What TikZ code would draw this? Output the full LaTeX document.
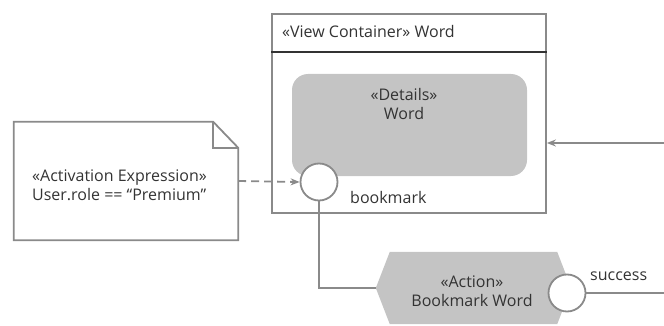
\documentclass[tikz,border=0pt]{standalone}
\usepackage{fontspec}
\setmainfont{Open Sans}
\usetikzlibrary{arrows.meta}
\definecolor{ln}{HTML}{8A8A8A}
\definecolor{tx}{HTML}{333333}
\definecolor{fillg}{HTML}{C4C4C4}
\tikzset{
  line/.style={draw=ln, line width=1.8pt},
  arr/.style={line, -{Stealth[length=9pt,width=7pt,inset=3pt]}},
  lbl/.style={text=tx, font=\fontsize{16}{19.5}\selectfont, inner sep=0pt},
  port/.style={circle, line, fill=white, minimum size=37pt, inner sep=0pt},
}
\begin{document}
\begin{tikzpicture}[x=1pt,y=-1pt]
\useasboundingbox (0,0) rectangle (664,326);
% note
\node[minimum width=224pt, minimum height=118pt, inner sep=0pt] (note) at (126,181) {};
\draw[line] (note.north west) -- ([xshift=-25pt]note.north east) -- ([yshift=-26pt]note.north east) -- (note.south east) -- (note.south west) -- cycle;
\draw[line] ([xshift=-25pt]note.north east) |- ([yshift=-26pt]note.north east);
\node[lbl, align=left, anchor=west] (notetext) at (32,185) {«Activation Expression»\\User.role == “Premium”};
% container
\node[line, minimum width=274pt, minimum height=199pt, inner sep=0pt] (cont) at (409,113.5) {};
\draw[draw=tx, line width=1.8pt] ([yshift=-39pt]cont.north west) -- ([yshift=-39pt]cont.north east);
\node[lbl, anchor=west] (conttitle) at (282,32) {«View Container» Word};
% details
\node[fill=fillg, rounded corners=16pt, minimum width=235pt, minimum height=102pt, inner sep=0pt] (det) at (409.5,125) {};
\node[lbl, align=center] (dettext) at (404,104) {«Details»\\Word};
% bookmark port
\node[port] (bm) at (319,182) {};
\node[lbl, anchor=west] (bmlbl) at (350,198) {bookmark};
% action hexagon
\node[minimum width=195pt, minimum height=72pt, inner sep=0pt] (act) at (473.5,288) {};
\fill[fillg] (act.west) -- ([xshift=14pt]act.north west) -- ([xshift=-14pt]act.north east) -- (act.east) -- ([xshift=-14pt]act.south east) -- ([xshift=14pt]act.south west) -- cycle;
\node[lbl, align=center] (acttext) at (472,291) {«Action»\\Bookmark Word};
% success port
\node[port] (succ) at (567,293) {};
\node[lbl, anchor=west] (succlbl) at (590,276) {success};
% connectors
\draw[arr, dashed, dash pattern=on 8pt off 5pt] (note.east) -- (bm.west);
\draw[line] (bm.south) |- (act.west);
\coordinate (sout) at (664,293);
\draw[line] (succ.east) -- (sout);
\coordinate (rin) at (664,143);
\draw[arr] (rin) -- (rin -| cont.east);
\end{tikzpicture}
\end{document}
